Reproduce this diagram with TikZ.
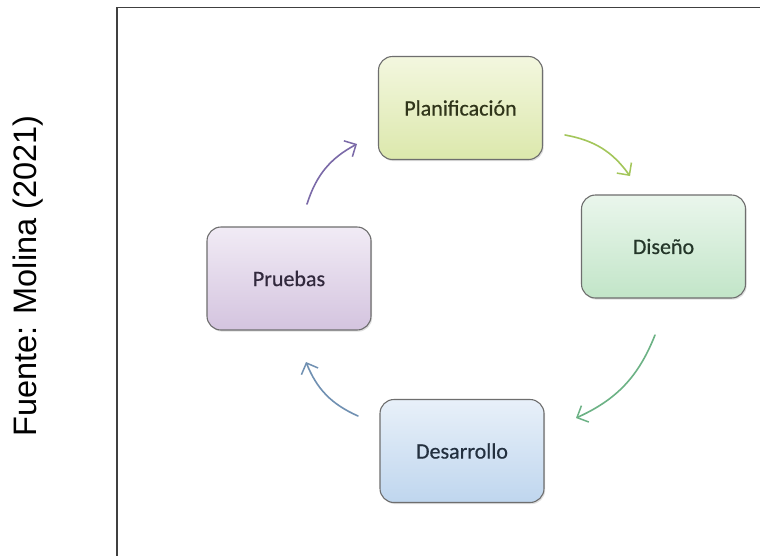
\documentclass[tikz,border=0pt]{standalone}
\usepackage{fontspec}
\setmainfont{Carlito}
\newfontfamily\boxfont{Carlito}[FakeBold=0.6]
\newfontfamily\captionfont{Liberation Sans}
\usetikzlibrary{arrows.meta,shadows}

\definecolor{frameline}{HTML}{404040}
\definecolor{boxline}{HTML}{6E6E6E}
% stage fills (top / bottom of the gradient) and text colours
\definecolor{planTop}{HTML}{F3F7DF}\definecolor{planBot}{HTML}{DCE8AC}\definecolor{planTxt}{HTML}{30351A}
\definecolor{disTop}{HTML}{EAF6EC}\definecolor{disBot}{HTML}{C2E5C8}\definecolor{disTxt}{HTML}{243629}
\definecolor{pruTop}{HTML}{F1EBF5}\definecolor{pruBot}{HTML}{D4C4DF}\definecolor{pruTxt}{HTML}{32293D}
\definecolor{desTop}{HTML}{E8F0F9}\definecolor{desBot}{HTML}{BFD6EE}\definecolor{desTxt}{HTML}{23303F}
% arrow colours
\definecolor{arPurple}{HTML}{7B6AA8}
\definecolor{arLime}{HTML}{A3C65A}
\definecolor{arGreen}{HTML}{6CB285}
\definecolor{arBlue}{HTML}{7090B2}

\tikzset{
  stage/.style={rectangle, rounded corners=14pt, draw=boxline, line width=1.1pt,
    minimum width=164pt, minimum height=103pt, inner sep=0pt,
    font=\boxfont\fontsize{22}{25}\selectfont,
    drop shadow={opacity=0.25, shadow xshift=1.2pt, shadow yshift=-1.6pt}},
  flow/.style={line width=1.6pt, line cap=round, bend left=22,
    -{Straight Barb[length=9pt,width=18pt,line width=1.5pt]}},
}

\begin{document}
\begin{tikzpicture}[x=1pt,y=-1pt]
  \useasboundingbox (0,0) rectangle (760,555);
  \fill[white] (0,0) rectangle (760,555);

  % outer frame (only its top and left edges fall inside the page)
  \draw[frameline, line width=1.3pt] (117,560) -- (117,7.5) -- (765,7.5);

  % source caption, set vertically
  \node[rotate=90, font=\captionfont\fontsize{32.5}{36}\selectfont] (fuente) at (28,276)
    {Fuente: Molina (2021)};

  % the four stages of the cycle
  \node[stage, top color=planTop, bottom color=planBot, text=planTxt] (plan) at (460.5,108) {Planificación};
  \node[stage, top color=disTop, bottom color=disBot, text=disTxt] (dis) at (663.5,246.5) {Diseño};
  \node[stage, top color=pruTop, bottom color=pruBot, text=pruTxt] (pru) at (289,278.5) {Pruebas};
  \node[stage, top color=desTop, bottom color=desBot, text=desTxt] (des) at (462,451) {Desarrollo};

  % arrow end points
  \coordinate (a1s) at (307,204); \coordinate (a1e) at (357,144);
  \coordinate (a2s) at (565,135); \coordinate (a2e) at (630,176);
  \coordinate (a3s) at (655,335); \coordinate (a3e) at (576,418);
  \coordinate (a4s) at (358,416); \coordinate (a4e) at (306,362);

  \draw[flow, arPurple] (a1s) to (a1e);
  \draw[flow, arLime] (a2s) to (a2e);
  \draw[flow, arGreen] (a3s) to (a3e);
  \draw[flow, arBlue] (a4s) to (a4e);
\end{tikzpicture}
\end{document}
